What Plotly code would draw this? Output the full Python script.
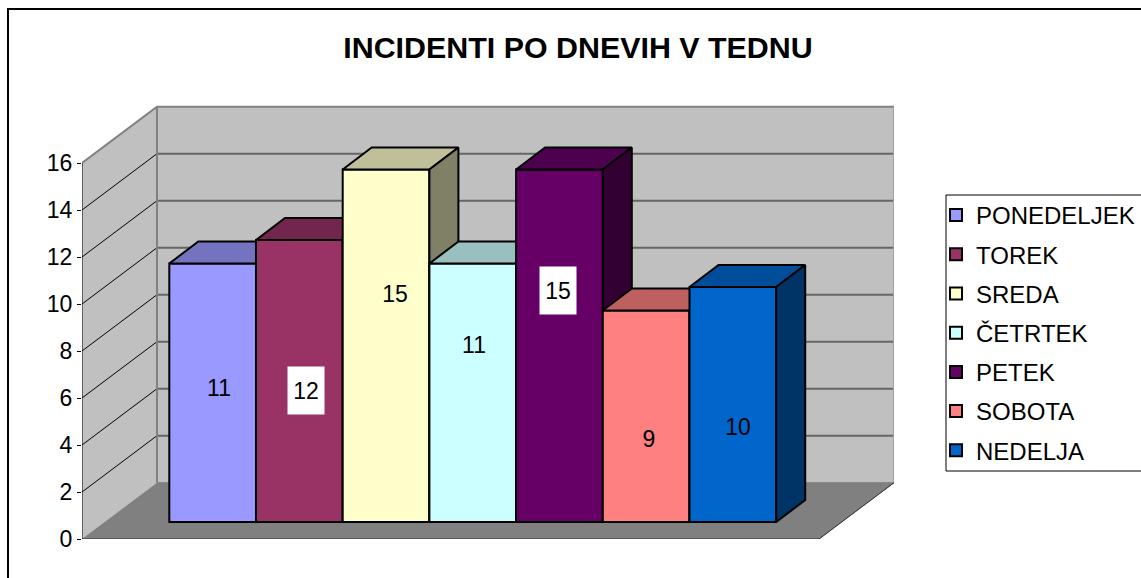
import plotly.graph_objects as go

# ---- data ----
DAYS = ["PONEDELJEK", "TOREK", "SREDA", "ČETRTEK", "PETEK", "SOBOTA", "NEDELJA"]
INCIDENTS = [11, 12, 15, 11, 15, 9, 10]
TICK_VALUES = [0, 2, 4, 6, 8, 10, 12, 14, 16]
TITLE = "INCIDENTI PO DNEVIH V TEDNU"

# ---- styles ----
FRONT = ["#9999FF", "#993366", "#FFFFCC", "#CCFFFF", "#660066", "#FF8080", "#0066CC"]
TOP = ["#7373BF", "#73264D", "#BFBF99", "#99BFBF", "#4D004D", "#BF6060", "#004D99"]
SIDE = ["#4D4D80", "#4D1A33", "#808066", "#668080", "#330033", "#804040", "#003366"]
LABEL_BOX = [False, True, False, False, True, False, False]
LABEL_SHIFT = [(6, 5), (7, -9), (9, 52), (1, 48), (-1, 55), (3, -22), (5, -22)]
FONT = "Liberation Sans"

# ---- geometry (oblique projection, pixels -> axis units) ----
W, H = 1141, 578
PX_X = 86.7          # pixels per category
PX_Y = 23.5          # pixels per value unit
BAR0 = 169.3         # left edge of the first bar
LEFT, RIGHT, TOPM, BOTTOM = 82, 894, 100, 539
X_LEFT = (LEFT - BAR0) / PX_X - 0.5
X_RIGHT = (RIGHT - BAR0) / PX_X - 0.5
Y_TOP = (BOTTOM - TOPM) / PX_Y
WALL_DX, WALL_DY = 75 / PX_X, 56.3 / PX_Y
BAR_DX, BAR_DY = 29 / PX_X, 22 / PX_Y
LIFT = (BOTTOM - 522) / PX_Y
FLOOR_RIGHT = X_RIGHT - WALL_DX
AX_MAX = TICK_VALUES[-1]

fig = go.Figure()


def poly(xs, ys, fill=None, color="black", width=1, yaxis="y"):
    fig.add_trace(go.Scatter(
        x=xs, y=ys, yaxis=yaxis, mode="lines", showlegend=False, hoverinfo="skip",
        fill="toself" if fill else None, fillcolor=fill,
        line=dict(color=color, width=width),
    ))


# walls and floor
poly([X_LEFT, X_LEFT + WALL_DX, X_LEFT + WALL_DX, X_LEFT],
     [0, WALL_DY, AX_MAX + WALL_DY, AX_MAX, ], fill="#C0C0C0", color="#C0C0C0")
poly([X_LEFT + WALL_DX, X_RIGHT, X_RIGHT, X_LEFT + WALL_DX],
     [WALL_DY, WALL_DY, AX_MAX + WALL_DY, AX_MAX + WALL_DY], fill="#C0C0C0", color="#C0C0C0")
poly([X_LEFT, FLOOR_RIGHT, X_RIGHT, X_LEFT + WALL_DX],
     [0, 0, WALL_DY, WALL_DY], fill="#808080", color="#808080")

# gridlines on the walls
gx_side, gy_side, gx_back, gy_back = [], [], [], []
for v in TICK_VALUES[1:-1]:
    gx_side += [X_LEFT, X_LEFT + WALL_DX, None]
    gy_side += [v, v + WALL_DY, None]
    gx_back += [X_LEFT + WALL_DX, X_RIGHT, None]
    gy_back += [v + WALL_DY, v + WALL_DY, None]
poly(gx_side, gy_side, color="#000000", width=1)
poly(gx_back, gy_back, color="#666666", width=2)

# wall outlines
poly([X_LEFT, X_LEFT + WALL_DX, X_RIGHT],
     [AX_MAX, AX_MAX + WALL_DY, AX_MAX + WALL_DY], color="#808080", width=2)
poly([X_LEFT + WALL_DX, X_LEFT + WALL_DX], [WALL_DY, AX_MAX + WALL_DY], color="#808080", width=2)
poly([X_RIGHT, X_RIGHT], [WALL_DY, AX_MAX + WALL_DY], color="#A0A0A0", width=2)
poly([X_LEFT, X_LEFT], [0, AX_MAX], color="#000000", width=1)
poly([X_LEFT, FLOOR_RIGHT, X_RIGHT], [0, 0, WALL_DY], color="#333333", width=1)

# bars: each on its own overlaid y axis so later bars hide earlier side faces
layout_axes = {}
for i, (day, val) in enumerate(zip(DAYS, INCIDENTS)):
    axis = f"y{i + 2}"
    layout_axes[f"yaxis{i + 2}"] = dict(overlaying="y", range=[0, Y_TOP], visible=False)
    fig.add_trace(go.Bar(
        x=[i], y=[val], base=LIFT, width=1, yaxis=axis, name=day, legendgroup=day,
        marker=dict(color=FRONT[i], line=dict(color="black", width=2)),
    ))
    l, r = i - 0.5, i + 0.5
    t = LIFT + val
    poly([l, r, r + BAR_DX, l + BAR_DX, l], [t, t, t + BAR_DY, t + BAR_DY, t],
         fill=TOP[i], width=2, yaxis=axis)
    poly([r, r + BAR_DX, r + BAR_DX, r, r],
         [LIFT, LIFT + BAR_DY, t + BAR_DY, t, LIFT],
         fill=SIDE[i], width=2, yaxis=axis)

# value labels
for i, val in enumerate(INCIDENTS):
    dx, dy = LABEL_SHIFT[i]
    fig.add_annotation(
        x=i, y=LIFT + val / 2, yref="y", xshift=dx, yshift=dy, text=str(val), showarrow=False,
        font=dict(family=FONT, size=23, color="black"),
        bgcolor="white" if LABEL_BOX[i] else "rgba(0,0,0,0)",
        width=34, height=45, valign="middle", align="center",
    )

fig.update_layout(
    width=W, height=H,
    margin=dict(l=LEFT, r=W - RIGHT, t=TOPM, b=H - BOTTOM, pad=0, autoexpand=False),
    paper_bgcolor="white", plot_bgcolor="white",
    barmode="overlay",
    font=dict(family=FONT, color="black"),
    title=dict(text=f"<b>{TITLE}</b>", x=578 / W, xanchor="center", xref="container",
               y=1 - 47 / H, yanchor="middle", yref="container",
               font=dict(family=FONT, size=30.4, color="black")),
    xaxis=dict(range=[X_LEFT, X_RIGHT], visible=False),
    yaxis=dict(range=[0, Y_TOP], tickvals=TICK_VALUES, ticks="outside", ticklen=4,
               tickwidth=1, tickcolor="black", showgrid=False, zeroline=False,
               showline=False, tickfont=dict(family=FONT, size=23, color="black")),
    legend=dict(
        x=(936 - LEFT) / (RIGHT - LEFT), xanchor="left",
        y=(BOTTOM - 193) / (BOTTOM - TOPM), yanchor="top",
        bgcolor="rgba(0,0,0,0)", borderwidth=0,
        font=dict(family=FONT, size=24, color="black"),
        tracegroupgap=5, itemclick=False, itemdoubleclick=False,
    ),
    shapes=[
        dict(type="rect", xref="paper", yref="paper", layer="below",
             x0=(8 - LEFT) / (RIGHT - LEFT), x1=(W + 10 - LEFT) / (RIGHT - LEFT),
             y0=(BOTTOM - H - 10) / (BOTTOM - TOPM), y1=(BOTTOM - 9) / (BOTTOM - TOPM),
             line=dict(color="black", width=2)),
        dict(type="rect", xref="paper", yref="paper", layer="below",
             x0=(946 - LEFT) / (RIGHT - LEFT), x1=(W + 10 - LEFT) / (RIGHT - LEFT),
             y0=(BOTTOM - 471) / (BOTTOM - TOPM), y1=(BOTTOM - 195) / (BOTTOM - TOPM),
             line=dict(color="black", width=1)),
    ],
    **layout_axes,
)

fig.write_html("out.html", config=dict(displayModeBar=False),
               post_script="document.body.style.margin='0';")
